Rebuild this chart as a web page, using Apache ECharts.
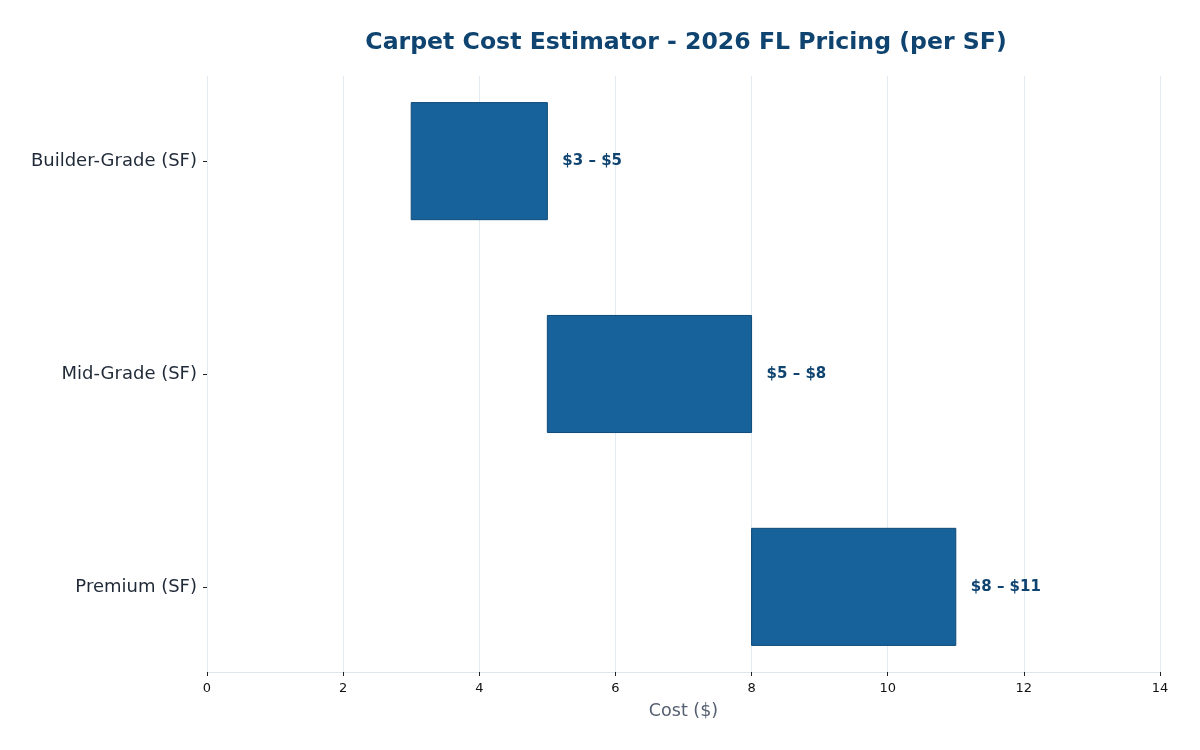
<!DOCTYPE html>
<html><head><meta charset="utf-8">
<script src="https://cdn.jsdelivr.net/npm/echarts@6/dist/echarts.min.js"></script>
<style>html,body{margin:0;padding:0;background:#fff}#c{width:1200px;height:750px}</style>
</head><body><div id="c"></div>
<script>
const categories = ['Builder-Grade (SF)', 'Mid-Grade (SF)', 'Premium (SF)'];
const lows = [3, 5, 8];
const highs = [5, 8, 11];
const rangeLabels = ['$3 – $5', '$5 – $8', '$8 – $11'];
const xTicks = [0, 2, 4, 6, 8, 10, 12, 14];

const chart = echarts.init(document.getElementById('c'));
const data = categories.map((c, i) => [lows[i], highs[i], i]);
chart.setOption({
  animation: false,
  title: {
    text: 'Carpet Cost Estimator - 2026 FL Pricing (per SF)',
    left: 681, top: 26, textAlign: 'center',
    textStyle: {fontFamily: 'DejaVu Sans', fontSize: 23.6, fontWeight: 'bold', color: '#0f4470'}
  },
  grid: {left: 207, right: 40, top: 76, bottom: 78},
  xAxis: {
    type: 'value', min: 0, max: 14, interval: 2,
    name: 'Cost ($)', nameLocation: 'middle', nameGap: 30,
    nameTextStyle: {fontFamily: 'DejaVu Sans', fontSize: 17.5, color: '#556070'},
    axisLine: {show: true, onZero: false, lineStyle: {color: '#dde6ef'}},
    axisTick: {show: true, length: 4, lineStyle: {color: '#222'}},
    axisLabel: {fontFamily: 'DejaVu Sans', fontSize: 13, color: '#111', margin: 10},
    splitLine: {show: true, lineStyle: {color: '#e2eaf2', width: 1}}
  },
  yAxis: {
    type: 'value', min: -0.4, max: 2.4, inverse: true,
    axisLine: {show: false},
    splitLine: {show: false},
    axisTick: {show: true, length: 4, customValues: [0, 1, 2], lineStyle: {color: '#222'}},
    axisLabel: {
      customValues: [0, 1, 2], margin: 10,
      fontFamily: 'DejaVu Sans', fontSize: 18, color: '#1f2937',
      formatter: v => categories[Math.round(v)] || ''
    }
  },
  series: [{
    type: 'custom',
    data: data,
    encode: {x: [0, 1], y: 2},
    renderItem: function (params, api) {
      const lo = api.value(0), hi = api.value(1), idx = api.value(2);
      const p0 = api.coord([lo, idx]);
      const p1 = api.coord([hi, idx]);
      const h = api.size([0, 0.55])[1];
      return {
        type: 'group',
        children: [{
          type: 'rect',
          shape: {x: p0[0], y: p0[1] - h / 2, width: p1[0] - p0[0], height: h},
          style: {fill: '#17629b', stroke: '#0f4a78', lineWidth: 1}
        }, {
          type: 'text',
          x: p1[0] + 15, y: p1[1],
          style: {
            text: rangeLabels[idx], fill: '#0f4470',
            font: 'bold 15px "DejaVu Sans"',
            verticalAlign: 'middle', align: 'left'
          }
        }]
      };
    }
  }]
});
</script>
</body></html>
